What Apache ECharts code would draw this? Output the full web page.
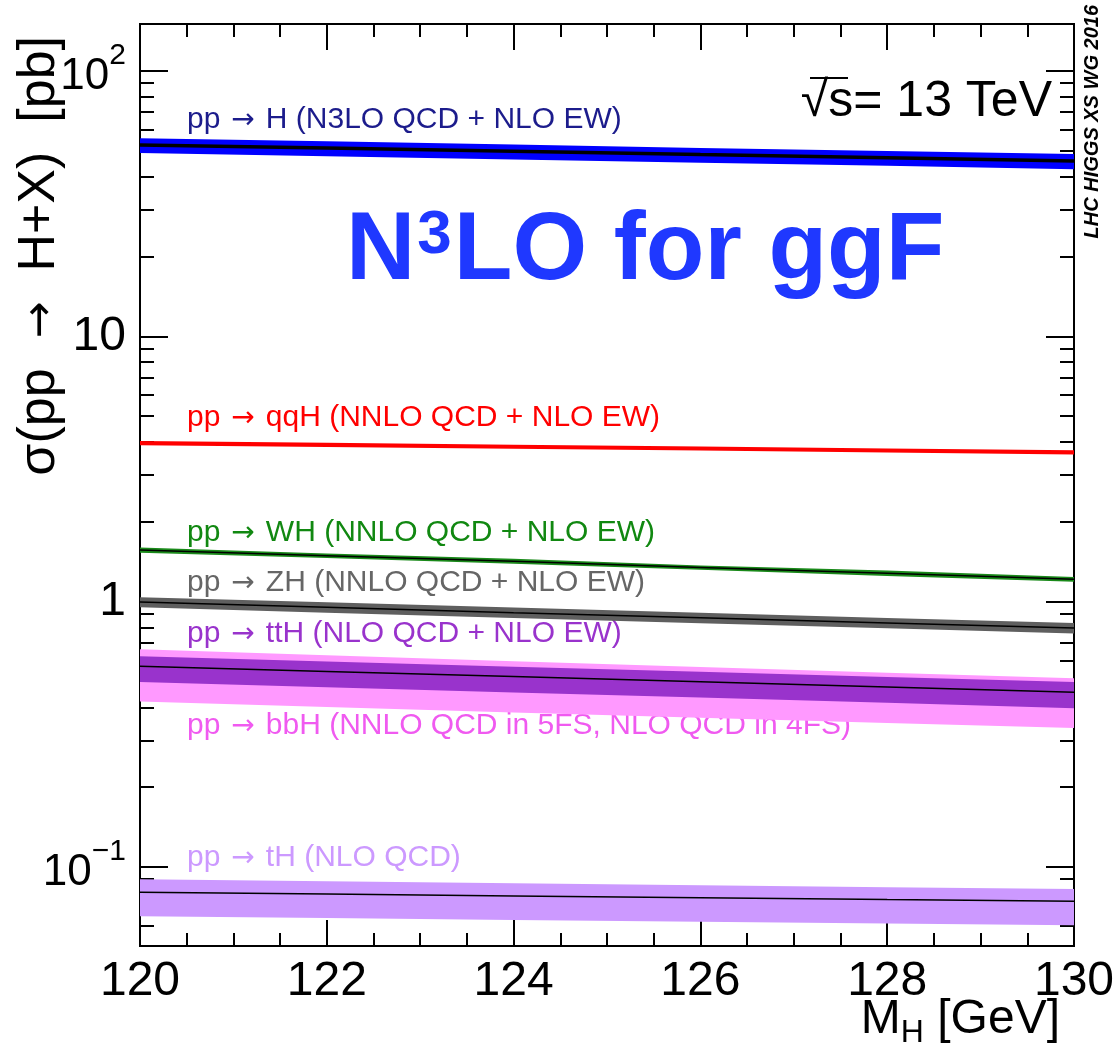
<!DOCTYPE html>
<html>
<head>
<meta charset="utf-8">
<script src="https://cdn.jsdelivr.net/npm/echarts@6/dist/echarts.min.js"></script>
<style>
html, body { margin: 0; padding: 0; background: #fff; }
#chart { width: 1118px; height: 1048px; }
</style>
</head>
<body>
<div id="chart"></div>
<script>
// Higgs mass points [GeV]
const massPoints = [120, 122, 124, 126, 128, 130];

// cross sections [pb]
const ggfCentral = [52.6, 51.2, 49.8, 48.4, 47.1, 45.8];
const ggfHigh    = [55.8, 54.3, 52.8, 51.3, 49.9, 48.6];
const ggfLow     = [49.1, 47.7, 46.4, 45.1, 43.9, 42.6];

const qqhHigh = [4.03, 3.97, 3.90, 3.84, 3.78, 3.72];
const qqhLow  = [3.89, 3.83, 3.77, 3.71, 3.65, 3.59];

const whCentral = [1.565, 1.49, 1.42, 1.345, 1.28, 1.216];
const whHigh    = [1.60, 1.52, 1.45, 1.37, 1.31, 1.24];
const whLow     = [1.53, 1.46, 1.39, 1.32, 1.25, 1.19];

const zhCentral = [0.997, 0.952, 0.909, 0.869, 0.831, 0.795];
const zhHigh    = [1.04, 0.995, 0.950, 0.908, 0.868, 0.831];
const zhLow     = [0.952, 0.909, 0.868, 0.830, 0.794, 0.759];

const tthCentral = [0.571, 0.546, 0.522, 0.499, 0.477, 0.456];
const tthHigh    = [0.623, 0.595, 0.569, 0.544, 0.520, 0.498];
const tthLow     = [0.498, 0.476, 0.455, 0.435, 0.416, 0.397];

const bbhHigh = [0.662, 0.628, 0.596, 0.567, 0.540, 0.515];
const bbhLow  = [0.421, 0.401, 0.382, 0.365, 0.349, 0.334];

const thCentral = [0.0804, 0.0791, 0.0778, 0.0766, 0.0754, 0.0743];
const thHigh    = [0.0900, 0.0884, 0.0869, 0.0854, 0.0840, 0.0826];
const thLow     = [0.0653, 0.0642, 0.0632, 0.0622, 0.0613, 0.0604];

// axis ticks
const yMajorTicks = [0.1, 1, 10, 100];
const yMinorTicks = [0.06, 0.07, 0.08, 0.09,
  0.2, 0.3, 0.4, 0.5, 0.6, 0.7, 0.8, 0.9,
  2, 3, 4, 5, 6, 7, 8, 9,
  20, 30, 40, 50, 60, 70, 80, 90];

// process labels: [final state, order text, colour]
const processLabels = [
  ['H',   '(N3LO QCD + NLO EW)', '#1c1c8c'],
  ['qqH', '(NNLO QCD + NLO EW)', '#ff0000'],
  ['WH',  '(NNLO QCD + NLO EW)', '#118811'],
  ['ZH',  '(NNLO QCD + NLO EW)', '#666666'],
  ['ttH', '(NLO QCD + NLO EW)', '#9933cc'],
  ['bbH', '(NNLO QCD in 5FS, NLO QCD in 4FS)', '#f05af0'],
  ['tH',  '(NLO QCD)', '#cc99ff']
];
const processLabelY = [120, 418, 533, 583, 634, 726, 858];

const FONT = '"Liberation Sans", Arial, Helvetica, sans-serif';
const ARROW_FONT = '"DejaVu Sans", sans-serif';

// filled band between low and high curves
const band = (lo, hi, color) => {
  const pts = massPoints.map((m, i) => [m, lo[i], hi[i]]);
  return {
    type: 'custom',
    data: pts,
    encode: { x: 0, y: [1, 2] },
    silent: true,
    renderItem: (params, api) => {
      if (params.dataIndex !== 0) return null;
      const upper = pts.map(p => api.coord([p[0], p[2]]));
      const lower = pts.map(p => api.coord([p[0], p[1]])).reverse();
      return {
        type: 'polygon',
        shape: { points: upper.concat(lower) },
        style: { fill: color }
      };
    }
  };
};

const centralLine = (vals, width) => ({
  type: 'line',
  data: massPoints.map((m, i) => [m, vals[i]]),
  showSymbol: false,
  silent: true,
  lineStyle: { color: '#000', width: width }
});

const yLabel = v => {
  const p = Math.round(Math.log10(v));
  if (p === 2) return '{m|10}{s|2}';
  if (p === 1) return '{b|10}';
  if (p === 0) return '{b|1}';
  if (p === -1) return '{m|10}{s|−1}';
  return '';
};

const yRich = {
  b: { fontSize: 48, fontFamily: FONT, color: '#000' },
  m: { fontSize: 44, fontFamily: FONT, color: '#000', padding: [12, 0, 0, 0] },
  s: { fontSize: 30, fontFamily: FONT, color: '#000', padding: [0, 0, 30, 0] }
};

const yAxisBase = {
  type: 'log',
  logBase: 10,
  min: 0.0504,
  max: 150.3,
  axisLine: { show: false },
  splitLine: { show: false }
};

const xAxisBase = {
  type: 'value',
  min: 120,
  max: 130,
  interval: 2,
  axisLine: { show: false },
  splitLine: { show: false },
  axisTick: { inside: true, length: 26, lineStyle: { color: '#000', width: 2 } },
  minorTick: { show: true, splitNumber: 4, length: 13, lineStyle: { color: '#000', width: 2 } }
};

const processText = (lab, y) => ({
  type: 'text',
  x: 187,
  y: y,
  style: {
    text: '{t|pp}{r|→}{t|' + lab[0] + ' ' + lab[1] + '}',
    fill: lab[2],
    textAlign: 'left',
    textVerticalAlign: 'middle',
    rich: {
      t: { fontSize: 30, fontFamily: FONT, color: lab[2] },
      r: { fontSize: 28, fontFamily: ARROW_FONT, color: lab[2], padding: [2, 11, 0, 11] }
    }
  }
});

const chart = echarts.init(document.getElementById('chart'));

chart.setOption({
  animation: false,
  backgroundColor: '#fff',
  grid: {
    left: 140,
    top: 24,
    width: 934,
    height: 922,
    show: true,
    borderColor: '#000',
    borderWidth: 2,
    backgroundColor: 'transparent'
  },
  xAxis: [
    Object.assign({}, xAxisBase, {
      position: 'bottom',
      axisLabel: { fontSize: 48, fontFamily: FONT, color: '#000', margin: 12 }
    }),
    Object.assign({}, xAxisBase, {
      position: 'top',
      axisLabel: { show: false }
    })
  ],
  yAxis: [
    Object.assign({}, yAxisBase, {
      position: 'left',
      axisTick: { inside: true, length: 28, customValues: yMajorTicks, lineStyle: { color: '#000', width: 2 } },
      axisLabel: { customValues: yMajorTicks, formatter: yLabel, rich: yRich, margin: 14 }
    }),
    Object.assign({}, yAxisBase, {
      position: 'left',
      axisTick: { inside: true, length: 14, customValues: yMinorTicks, lineStyle: { color: '#000', width: 2 } },
      axisLabel: { show: false }
    }),
    Object.assign({}, yAxisBase, {
      position: 'right',
      axisTick: { inside: true, length: 28, customValues: yMajorTicks, lineStyle: { color: '#000', width: 2 } },
      axisLabel: { show: false }
    }),
    Object.assign({}, yAxisBase, {
      position: 'right',
      axisTick: { inside: true, length: 14, customValues: yMinorTicks, lineStyle: { color: '#000', width: 2 } },
      axisLabel: { show: false }
    })
  ],
  series: [
    band(ggfLow, ggfHigh, '#0000ff'),
    centralLine(ggfCentral, 3.5),
    band(qqhLow, qqhHigh, '#ff0000'),
    band(whLow, whHigh, '#1a8a1a'),
    centralLine(whCentral, 1.5),
    band(zhLow, zhHigh, '#5f5f5f'),
    centralLine(zhCentral, 1.5),
    band(bbhLow, bbhHigh, '#ff99ff'),
    band(tthLow, tthHigh, '#9933cc'),
    centralLine(tthCentral, 1.5),
    band(thLow, thHigh, '#cc99ff'),
    centralLine(thCentral, 1.5)
  ],
  graphic: processLabels.map((lab, i) => processText(lab, processLabelY[i])).concat([
    {
      type: 'text',
      x: 346,
      y: 253,
      style: {
        text: '{n|N}{s|3}{n|LO for ggF}',
        fill: '#1f38ff',
        textAlign: 'left',
        textVerticalAlign: 'middle',
        rich: {
          n: { fontSize: 96, fontWeight: 'bold', fontFamily: FONT, color: '#1f38ff' },
          s: { fontSize: 62, fontWeight: 'bold', fontFamily: FONT, color: '#1f38ff', padding: [0, 2, 34, 2] }
        }
      }
    },
    {
      type: 'text',
      x: 1052,
      y: 102,
      style: {
        text: '√s= 13 TeV',
        fill: '#000',
        font: '50px ' + FONT,
        textAlign: 'right',
        textVerticalAlign: 'middle'
      }
    },
    {
      type: 'line',
      shape: { x1: 810, y1: 78, x2: 848, y2: 78 },
      style: { stroke: '#000', lineWidth: 2 }
    },
    {
      type: 'text',
      x: 1092,
      y: 5,
      rotation: Math.PI / 2,
      style: {
        text: 'LHC HIGGS XS WG 2016',
        fill: '#000',
        font: 'italic bold 20px ' + FONT,
        textAlign: 'right',
        textVerticalAlign: 'middle'
      }
    },
    {
      type: 'text',
      x: 40,
      y: 36,
      rotation: Math.PI / 2,
      style: {
        text: '{t|σ(pp}{r|→}{t|H+X)  [pb]}',
        fill: '#000',
        textAlign: 'right',
        textVerticalAlign: 'middle',
        rich: {
          t: { fontSize: 52, fontFamily: FONT, color: '#000' },
          r: { fontSize: 44, fontFamily: ARROW_FONT, color: '#000', padding: [4, 30, 0, 30] }
        }
      }
    },
    {
      type: 'text',
      x: 1060,
      y: 1020,
      style: {
        text: '{m|M}{s|H}{m| [GeV]}',
        textAlign: 'right',
        textVerticalAlign: 'middle',
        rich: {
          m: { fontSize: 48, fontFamily: FONT, color: '#000' },
          s: { fontSize: 32, fontFamily: FONT, color: '#000', padding: [26, 0, 0, 0] }
        }
      }
    }
  ])
});
</script>
</body>
</html>
